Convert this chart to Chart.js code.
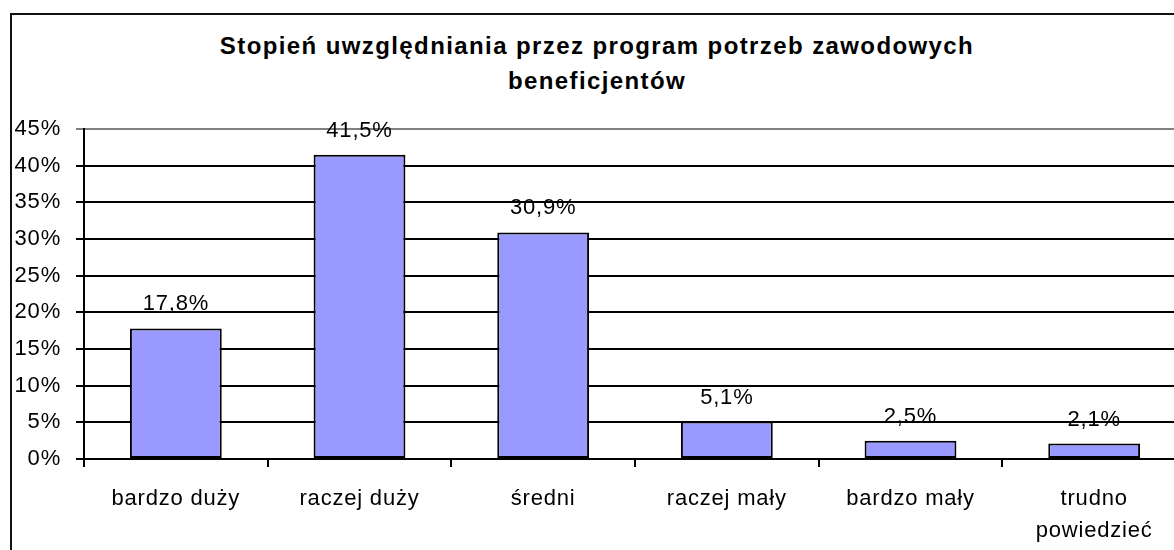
<!DOCTYPE html>
<html>
<head>
<meta charset="utf-8">
<script src="https://cdn.jsdelivr.net/npm/chart.js@4/dist/chart.umd.min.js"></script>
<style>
  html, body { margin: 0; padding: 0; background: #fff; overflow: hidden; }
  #frame { position: absolute; left: 10px; top: 13px; width: 1300px; height: 700px;
           border-left: 2px solid #111; border-top: 2px solid #111; }
  #title { position: absolute; left: 10px; top: 28px; width: 1174px; text-align: center;
           font: bold 24px 'Liberation Sans', Arial, sans-serif; line-height: 35px;
           letter-spacing: 1.4px; color: #000; }
  #wrap { position: absolute; left: 0; top: 0; width: 1200px; height: 550px; }
</style>
</head>
<body>
<div id="frame"></div>
<div id="title">Stopień uwzględniania przez program potrzeb zawodowych<br>beneficjentów</div>
<div id="wrap"><canvas id="chart" width="1200" height="550"></canvas></div>
<script>
// data
var categories = ['bardzo duży', 'raczej duży', 'średni', 'raczej mały', 'bardzo mały', ['trudno', 'powiedzieć']]
var shares = [17.8, 41.5, 30.9, 5.1, 2.5, 2.1]
var yMax = 45
var yStep = 5

var FONT = "'Liberation Sans', Arial, sans-serif"

// spread letters a bit like the old spreadsheet rendering
var spacingPlugin = {
	id: 'spacing',
	beforeDraw: function (chart) {
		chart.ctx.letterSpacing = '0.8px'
	},
}

// value labels above bars
var valueLabels = {
	id: 'valueLabels',
	afterDatasetsDraw: function (chart) {
		var ctx = chart.ctx
		var meta = chart.getDatasetMeta(0)
		ctx.save()
		ctx.font = '22px ' + FONT
		ctx.fillStyle = '#000'
		ctx.textAlign = 'center'
		ctx.textBaseline = 'alphabetic'
		meta.data.forEach(function (bar, i) {
			var txt = shares[i].toFixed(1).replace('.', ',') + '%'
			ctx.fillText(txt, bar.x, bar.y - 18)
		})
		ctx.restore()
	},
}

var ctx = document.getElementById('chart').getContext('2d')
var chart = new Chart(ctx, {
	type: 'bar',
	data: {
		labels: categories,
		datasets: [
			{
				data: shares,
				backgroundColor: '#9999FF',
				borderColor: '#000',
				borderWidth: 2,
				borderSkipped: false,
				barPercentage: 0.5,
				categoryPercentage: 1,
			},
		],
	},
	options: {
		responsive: false,
		animation: false,
		layout: { padding: { top: 129, right: 14, bottom: 0, left: 0 } },
		plugins: {
			legend: { display: false },
			title: { display: false },
			tooltip: { enabled: false },
		},
		scales: {
			x: {
				offset: true,
				grid: {
					offset: true,
					drawOnChartArea: false,
					tickLength: 8,
					color: '#000',
					lineWidth: 2,
				},
				border: { color: '#000', width: 2 },
				ticks: {
					color: '#000',
					font: { family: FONT, size: 22, lineHeight: 1.45 },
					padding: 16,
					maxRotation: 0,
					autoSkip: false,
				},
				afterFit: function (scale) {
					scale.height = 91
				},
			},
			y: {
				min: 0,
				max: yMax,
				grid: {
					tickLength: 8,
					lineWidth: 2,
					color: function (c) {
						return c.tick && c.tick.value === yMax ? '#808080' : '#000'
					},
				},
				border: { color: '#000', width: 2 },
				ticks: {
					stepSize: yStep,
					color: '#000',
					font: { family: FONT, size: 22 },
					padding: 15,
					callback: function (v) {
						return v + '%'
					},
				},
				afterFit: function (scale) {
					scale.width = 84
				},
			},
		},
	},
	plugins: [spacingPlugin, valueLabels],
})
</script>
</body>
</html>
